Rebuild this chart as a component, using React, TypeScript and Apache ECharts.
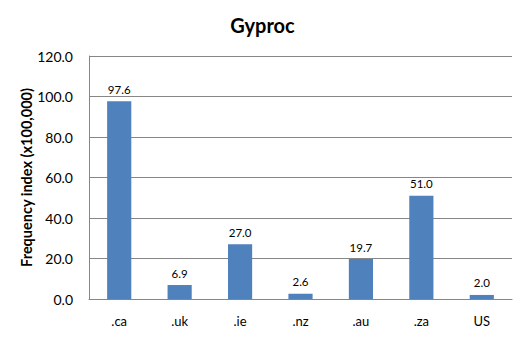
import React, { useEffect, useRef } from "react";
import * as echarts from "echarts";

const categories = [".ca", ".uk", ".ie", ".nz", ".au", ".za", "US"];
const values = [97.6, 6.9, 27.0, 2.6, 19.7, 51.0, 2.0];
const title = "Gyproc";
const yName = "Frequency index (x100,000)";

export default function App() {
  const ref = useRef<HTMLDivElement>(null);
  useEffect(() => {
    const chart = echarts.init(ref.current!, null, { renderer: "svg" });
    const font = "Lato, 'Open Sans', sans-serif";
    chart.setOption({
      animation: false,
      backgroundColor: "#ffffff",
      title: {
        text: title,
        left: "center",
        top: 10,
        textStyle: { fontFamily: font, fontWeight: "bold", fontSize: 20, color: "#000" },
      },
      grid: { left: 89, right: 13, top: 56, bottom: 39 },
      xAxis: {
        type: "category",
        data: categories,
        axisLine: { lineStyle: { color: "#868686" } },
        axisTick: { show: false },
        axisLabel: { color: "#000", fontFamily: font, fontSize: 13, margin: 15 },
      },
      yAxis: {
        type: "value",
        min: 0,
        max: 120,
        interval: 20,
        name: yName,
        nameLocation: "middle",
        nameGap: 55,
        nameMoveOverlap: false,
        nameTextStyle: { fontFamily: font, fontWeight: "bold", fontSize: 14.5, color: "#000" },
        axisLine: { show: true, lineStyle: { color: "#868686" } },
        axisTick: { show: false },
        splitLine: { lineStyle: { color: "#868686" } },
        axisLabel: {
          color: "#000",
          fontFamily: font,
          fontSize: 14,
          margin: 16,
          formatter: (v: number) => v.toFixed(1),
        },
      },
      series: [
        {
          type: "bar",
          data: values,
          barWidth: "40%",
          itemStyle: { color: "#4F81BD" },
          label: {
            show: true,
            position: "top",
            distance: 6,
            color: "#000",
            fontFamily: font,
            fontSize: 11.5,
            formatter: (p: any) => Number(p.value).toFixed(1),
          },
        },
      ],
    });
    return () => chart.dispose();
  }, []);
  return (
    <div
      ref={ref}
      style={{ position: "fixed", left: 0, top: 0, width: 525, height: 338 }}
    />
  );
}
